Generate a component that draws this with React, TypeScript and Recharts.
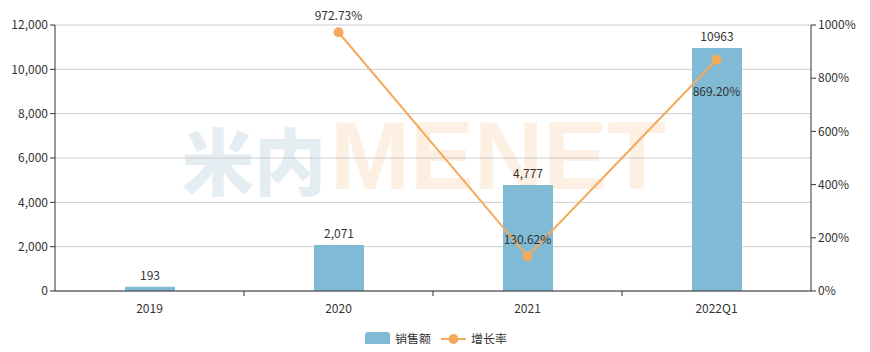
import React from "react";
import {
  Bar,
  CartesianGrid,
  ComposedChart,
  LabelList,
  Line,
  XAxis,
  YAxis,
} from "recharts";

const BAR = "#81bad4";
const LINE = "#f4aa5c";
const TEXT = "#333";
const GRID = "#ccc";
const FONT = "'Noto Sans CJK SC', 'Noto Sans', sans-serif";

const categories = ["2019", "2020", "2021", "2022Q1"];
const sales = [193, 2071, 4777, 10963];
const salesLabels = ["193", "2,071", "4,777", "10963"];
const growth: (number | null)[] = [null, 972.73, 130.62, 869.2];
const growthLabels = ["", "972.73%", "130.62%", "869.20%"];
const growthLabelBelow = [false, false, false, true];
const leftTicks = [0, 2000, 4000, 6000, 8000, 10000, 12000];
const rightTicks = [0, 200, 400, 600, 800, 1000];

const data = categories.map((c, i) => ({
  name: c,
  sales: sales[i],
  growth: growth[i],
  i,
}));

const W = 870;
const H = 352;

function XTick(props: any) {
  const { x, y, payload, index } = props;
  const half = payload?.offset ?? 94.5;
  return (
    <g>
      <text
        x={x}
        y={y + 14}
        textAnchor="middle"
        fill={TEXT}
        fontSize={12}
        fontFamily={FONT}
      >
        {payload.value}
      </text>
      {index < categories.length - 1 && (
        <line x1={x + half} x2={x + half} y1={y - 8} y2={y - 3} stroke={TEXT} />
      )}
    </g>
  );
}

function GrowthLabel(props: any) {
  const { x, y, index } = props;
  const txt = growthLabels[index];
  if (!txt || x == null || y == null) return null;
  const below = growthLabelBelow[index];
  return (
    <text
      x={x}
      y={below ? y + 36 : y - 12}
      textAnchor="middle"
      fill={TEXT}
      fontSize={12}
      fontFamily={FONT}
    >
      {txt}
    </text>
  );
}

function SalesLabel(props: any) {
  const { x, y, width, index } = props;
  return (
    <text
      x={x + width / 2}
      y={y - 7}
      textAnchor="middle"
      fill={TEXT}
      fontSize={12}
      fontFamily={FONT}
    >
      {salesLabels[index]}
    </text>
  );
}

export default function App() {
  return (
    <div
      style={{
        position: "relative",
        width: W,
        height: H,
        margin: -8,
        background: "#fff",
        fontFamily: FONT,
      }}
    >
      {/* watermark */}
      <div
        style={{
          position: "absolute",
          left: 182,
          top: 101,
          display: "flex",
          alignItems: "baseline",
          fontWeight: 700,
          fontFamily: "'Liberation Sans', Arial, sans-serif",
          userSelect: "none",
        }}
      >
        <span
          style={{
            color: "#e4edf1",
            fontSize: 72,
            fontFamily: "'Noto Sans CJK SC', sans-serif",
            fontWeight: 900,
          }}
        >
          米内
        </span>
        <span style={{ color: "#fdefe2", fontSize: 96, marginLeft: 4 }}>
          MENET
        </span>
      </div>

      <div style={{ position: "absolute", left: 0, top: 0 }}>
        <ComposedChart
          width={W}
          height={H}
          data={data}
          margin={{ top: 25, right: 0, bottom: 31, left: 0 }}
          barCategoryGap={0}
        >
          <CartesianGrid stroke={GRID} vertical={false} yAxisId="left" />
          <XAxis
            dataKey="name"
            tickLine={false}
            axisLine={{ stroke: TEXT }}
            tick={<XTick />}
            height={30}
            interval={0}
          />
          <YAxis
            yAxisId="left"
            width={55}
            domain={[0, 12000]}
            ticks={leftTicks}
            tickFormatter={(v: number) => v.toLocaleString("en-US")}
            tick={{ fill: TEXT, fontSize: 12, fontFamily: FONT }}
            tickLine={{ stroke: TEXT }}
            tickSize={5}
            axisLine={{ stroke: TEXT }}
            interval={0}
          />
          <YAxis
            yAxisId="right"
            orientation="right"
            width={59}
            domain={[0, 1000]}
            ticks={rightTicks}
            tickFormatter={(v: number) => `${v}%`}
            tick={{ fill: TEXT, fontSize: 12, fontFamily: FONT, textAnchor: "start" }}
            tickLine={{ stroke: TEXT }}
            tickSize={5}
            axisLine={{ stroke: TEXT }}
            interval={0}
          />
          <Bar
            yAxisId="left"
            dataKey="sales"
            fill={BAR}
            barSize={50}
            isAnimationActive={false}
          >
            <LabelList dataKey="sales" content={<SalesLabel />} />
          </Bar>
          <Line
            yAxisId="right"
            dataKey="growth"
            stroke={LINE}
            strokeWidth={2}
            dot={{ r: 5, fill: LINE, stroke: LINE, strokeWidth: 0 }}
            activeDot={false}
            connectNulls={false}
            isAnimationActive={false}
          >
            <LabelList dataKey="growth" content={<GrowthLabel />} />
          </Line>
        </ComposedChart>
      </div>

      {/* legend */}
      <div
        style={{
          position: "absolute",
          left: 0,
          width: W,
          top: 330,
          display: "flex",
          justifyContent: "center",
          alignItems: "center",
          fontSize: 12,
          color: TEXT,
          transform: "translateX(1px)",
        }}
      >
        <span style={{ display: "inline-flex", alignItems: "center" }}>
          <span
            style={{
              display: "inline-block",
              width: 25,
              height: 14,
              borderRadius: 3,
              background: BAR,
              marginRight: 5,
            }}
          />
          销售额
        </span>
        <span
          style={{ display: "inline-flex", alignItems: "center", marginLeft: 10 }}
        >
          <svg width={25} height={14} style={{ marginRight: 5 }}>
            <line x1={0} x2={25} y1={7} y2={7} stroke={LINE} strokeWidth={2} />
            <circle cx={12.5} cy={7} r={5} fill={LINE} />
          </svg>
          增长率
        </span>
      </div>
    </div>
  );
}
